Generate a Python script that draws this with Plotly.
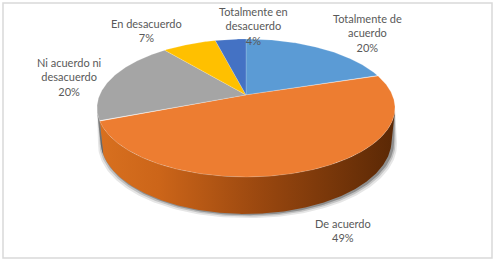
import numpy as np
import plotly.graph_objects as go

# ---- data ----
categories = ["Totalmente de acuerdo", "De acuerdo", "Ni acuerdo ni desacuerdo",
              "En desacuerdo", "Totalmente en desacuerdo"]
values = [20, 49, 20, 7, 4]
label_lines = [["Totalmente de", "acuerdo"], ["De acuerdo"], ["Ni acuerdo ni", "desacuerdo"],
               ["En desacuerdo"], ["Totalmente en", "desacuerdo"]]

# ---- style ----
top_colors = ["#5B9BD5", "#ED7D31", "#A5A5A5", "#FFC000", "#4472C4"]
side_scales = [
    [[0, "#4A86BE"], [1, "#2A4E72"]],
    [[0, "#D8701F"], [0.2, "#CC6519"], [0.55, "#99470F"], [1, "#5A2805"]],
    [[0, "#939393"], [1, "#555555"]],
    [[0, "#E0A800"], [1, "#7A5C00"]],
    [[0, "#3A62AA"], [1, "#223A66"]],
]
label_pos = [(367, 33), (343, 230), (69, 77), (146, 30), (253, 26)]

# 3-D look: tilt + perspective, fitted to a pixel box
PHI = np.radians(26.5)
DIST = np.cos(PHI) / 0.19
THICK = 0.245
BOX = dict(left=97, right=395, top=39, bottom=177)


def raw(theta_deg, y3=0.0):
    t = np.radians(theta_deg)
    x, z = np.sin(t), np.cos(t)
    u = z * np.sin(PHI) + y3 * np.cos(PHI)
    w = DIST + z * np.cos(PHI) - y3 * np.sin(PHI)
    return x / w, u / w


_g = np.linspace(0, 360, 3601)
_X, _U = raw(_g)
SX = (BOX["right"] - BOX["left"]) / (_X.max() - _X.min())
SY = (BOX["bottom"] - BOX["top"]) / (_U.max() - _U.min())


def pt(theta_deg, y3=0.0):
    X, U = raw(theta_deg, y3)
    return BOX["left"] + (X - _X.min()) * SX, BOX["top"] + (_U.max() - U) * SY


def center(y3=0.0):
    u = y3 * np.cos(PHI)
    w = DIST - y3 * np.sin(PHI)
    return BOX["left"] + (0 - _X.min()) * SX, BOX["top"] + (_U.max() - u / w) * SY


# visible part of the wall
vis = np.degrees(np.arccos(-1.0 / (DIST * np.cos(PHI))))
VIS0, VIS1 = vis, 360 - vis

total = float(sum(values))
bounds = np.concatenate([[0], np.cumsum(values)]) / total * 360.0

fig = go.Figure()

# soft shadow around the lower rim
th = np.linspace(VIS0 - 4, VIS1 + 4, 160)
for off, alpha in [(4, 0.12), (2.5, 0.2), (1.2, 0.35)]:
    bx, by = pt(th, -THICK)
    tx, ty = pt(th[::-1], 0)
    cx0, _ = center()
    sx = np.concatenate([bx + np.sign(bx - cx0) * off + 1.5, tx[::-1][::-1]])
    sy = np.concatenate([by + off, ty])
    fig.add_trace(go.Scatter(x=sx, y=sy, fill="toself", mode="lines", line=dict(width=0),
                             fillcolor=f"rgba(50,50,50,{alpha})", hoverinfo="skip",
                             showlegend=False))

# side walls
for i in range(len(values)):
    a0, a1 = max(bounds[i], VIS0), min(bounds[i + 1], VIS1)
    if a1 <= a0:
        continue
    th = np.linspace(a0, a1, max(int((a1 - a0) * 2), 4))
    tx, ty = pt(th)
    bx, by = pt(th[::-1], -THICK)
    fig.add_trace(go.Scatter(
        x=np.concatenate([tx, bx, tx[:1]]), y=np.concatenate([ty, by, ty[:1]]),
        fill="toself", mode="lines", line=dict(width=0),
        fillgradient=dict(type="horizontal", colorscale=side_scales[i]),
        hoverinfo="skip", showlegend=False))

# top faces
cx, cy = center()
for i in range(len(values)):
    a0, a1 = bounds[i], bounds[i + 1]
    th = np.linspace(a0, a1, max(int((a1 - a0) * 2), 4))
    ex, ey = pt(th)
    fig.add_trace(go.Scatter(
        x=np.concatenate([[cx], ex, [cx]]), y=np.concatenate([[cy], ey, [cy]]),
        fill="toself", mode="lines", line=dict(width=0.6, color="rgba(255,255,255,0.3)"),
        fillcolor=top_colors[i], name=categories[i],
        hoverinfo="skip", showlegend=False))

# labels
for i, v in enumerate(values):
    pct = f"{round(v / total * 100)}%"
    txt = "<br>".join(label_lines[i] + [pct])
    fig.add_annotation(x=label_pos[i][0], y=label_pos[i][1], text=txt, showarrow=False,
                       xanchor="center", yanchor="middle", align="center",
                       font=dict(family="Lato, Open Sans, sans-serif", size=11, color="#595959"))

fig.update_layout(
    width=500, height=268, margin=dict(l=0, r=0, t=0, b=0),
    paper_bgcolor="white", plot_bgcolor="white",
    xaxis=dict(range=[0, 500], visible=False, fixedrange=True),
    yaxis=dict(range=[268, 0], visible=False, fixedrange=True),
    shapes=[dict(type="rect", xref="x", yref="y", x0=3, y0=3, x1=492, y1=258,
                 line=dict(color="#D9D9D9", width=1.5), layer="below")],
)

fig.write_html("out.html", config={"displayModeBar": False},
               post_script="document.body.style.margin='0';")
